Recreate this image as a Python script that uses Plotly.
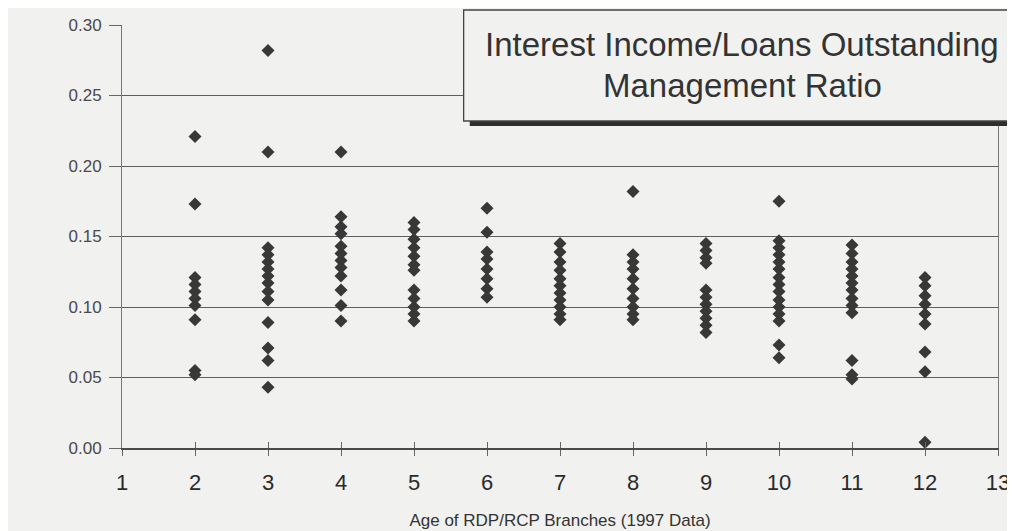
import plotly.graph_objects as go

# Interest income / loans outstanding ratio, by branch age (years)
age_2 = [0.221, 0.173, 0.121, 0.116, 0.111, 0.106, 0.101, 0.091, 0.055, 0.052]
age_3 = [0.282, 0.210, 0.142, 0.137, 0.132, 0.127, 0.122, 0.117, 0.111, 0.105, 0.089, 0.071, 0.062, 0.043]
age_4 = [0.210, 0.164, 0.157, 0.152, 0.143, 0.138, 0.133, 0.128, 0.122, 0.112, 0.101, 0.090]
age_5 = [0.160, 0.155, 0.148, 0.142, 0.136, 0.130, 0.126, 0.112, 0.106, 0.100, 0.095, 0.090]
age_6 = [0.170, 0.153, 0.139, 0.134, 0.127, 0.120, 0.113, 0.107]
age_7 = [0.145, 0.139, 0.132, 0.126, 0.120, 0.115, 0.110, 0.105, 0.100, 0.095, 0.091]
age_8 = [0.182, 0.137, 0.132, 0.127, 0.120, 0.113, 0.106, 0.100, 0.095, 0.091]
age_9 = [0.145, 0.140, 0.135, 0.131, 0.112, 0.107, 0.102, 0.097, 0.092, 0.087, 0.082]
age_10 = [0.175, 0.147, 0.142, 0.137, 0.132, 0.127, 0.121, 0.116, 0.111, 0.105, 0.100, 0.095, 0.090, 0.073, 0.064]
age_11 = [0.144, 0.138, 0.132, 0.127, 0.122, 0.117, 0.112, 0.106, 0.101, 0.096, 0.062, 0.052, 0.049]
age_12 = [0.121, 0.115, 0.108, 0.102, 0.095, 0.088, 0.068, 0.054, 0.004]

groups = {2: age_2, 3: age_3, 4: age_4, 5: age_5, 6: age_6, 7: age_7,
          8: age_8, 9: age_9, 10: age_10, 11: age_11, 12: age_12}

x_ticks = list(range(1, 14))
y_ticks = [0.00, 0.05, 0.10, 0.15, 0.20, 0.25, 0.30]
y_tick_labels = ["0.00", "0.05", "0.10", "0.15", "0.20", "0.25", "0.30"]

title_line1 = "Interest Income/Loans Outstanding"
title_line2 = "Management Ratio"
x_title = "Age of RDP/RCP Branches (1997 Data)"

xs, ys = [], []
for age, vals in groups.items():
    xs += [age] * len(vals)
    ys += vals

fig = go.Figure()
fig.add_trace(go.Scatter(
    x=xs, y=ys, mode="markers",
    marker=dict(symbol="diamond", size=10, color="#383838",
                line=dict(width=0)),
    showlegend=False, hoverinfo="x+y"))

# invisible trace to activate the overlay axis (ticks crossing the baseline)
fig.add_trace(go.Scatter(x=[1], y=[0], xaxis="x2", mode="markers",
                         marker=dict(opacity=0), showlegend=False, hoverinfo="skip"))

bg = "#f1f1ef"
fig.update_layout(
    width=1015, height=531,
    margin=dict(l=114, r=25, t=17, b=91, autoexpand=False),
    paper_bgcolor=bg, plot_bgcolor=bg,
    font=dict(family="Liberation Sans, Arial, sans-serif", color="#333333"),
    xaxis=dict(range=[1, 13], tickvals=x_ticks, ticktext=[str(v) for v in x_ticks],
               showgrid=False, zeroline=False, showline=True, linecolor="#4a4a4a",
               linewidth=2, ticks="outside", ticklen=6, tickcolor="#666666",
               ticklabelstandoff=8, automargin=False,
               tickfont=dict(size=22, color="#2a2a2a"),
               title=dict(text=x_title, font=dict(size=17, color="#333333"), standoff=20)),
    xaxis2=dict(range=[1, 13], overlaying="x", tickvals=x_ticks,
                showticklabels=False, showgrid=False, zeroline=False, showline=False,
                ticks="inside", ticklen=6, tickcolor="#666666", side="bottom", anchor="y",
                automargin=False),
    yaxis=dict(range=[0, 0.30], tickvals=y_ticks, ticktext=y_tick_labels,
               showgrid=True, gridcolor="#5e5e5e", gridwidth=1.3,
               zeroline=False, showline=True, mirror=True, linecolor="#777777", linewidth=1,
               ticks="outside", ticklen=12, tickcolor="#666666", automargin=False,
               ticklabelstandoff=4,
               tickfont=dict(size=17, color="#4a4a4a")),
)

# title box with drop shadow
fig.add_shape(type="rect", xref="paper", yref="paper",
              x0=0.397, x1=1.04, y0=0.761, y1=0.79,
              line=dict(width=0), fillcolor="#2e2e2e", layer="above")
fig.add_shape(type="rect", xref="paper", yref="paper",
              x0=0.390, x1=1.04, y0=0.773, y1=1.0355,
              line=dict(width=1.3, color="#444444"), fillcolor=bg, layer="above")
fig.add_annotation(text=title_line1, xref="paper", yref="paper",
                   x=0.708, y=0.953, xanchor="center", yanchor="middle",
                   showarrow=False, align="center",
                   font=dict(size=33, color="#333333"))
fig.add_annotation(text=title_line2, xref="paper", yref="paper",
                   x=0.708, y=0.856, xanchor="center", yanchor="middle",
                   showarrow=False, align="center",
                   font=dict(size=33, color="#333333"))

fig.write_html("out.html")
